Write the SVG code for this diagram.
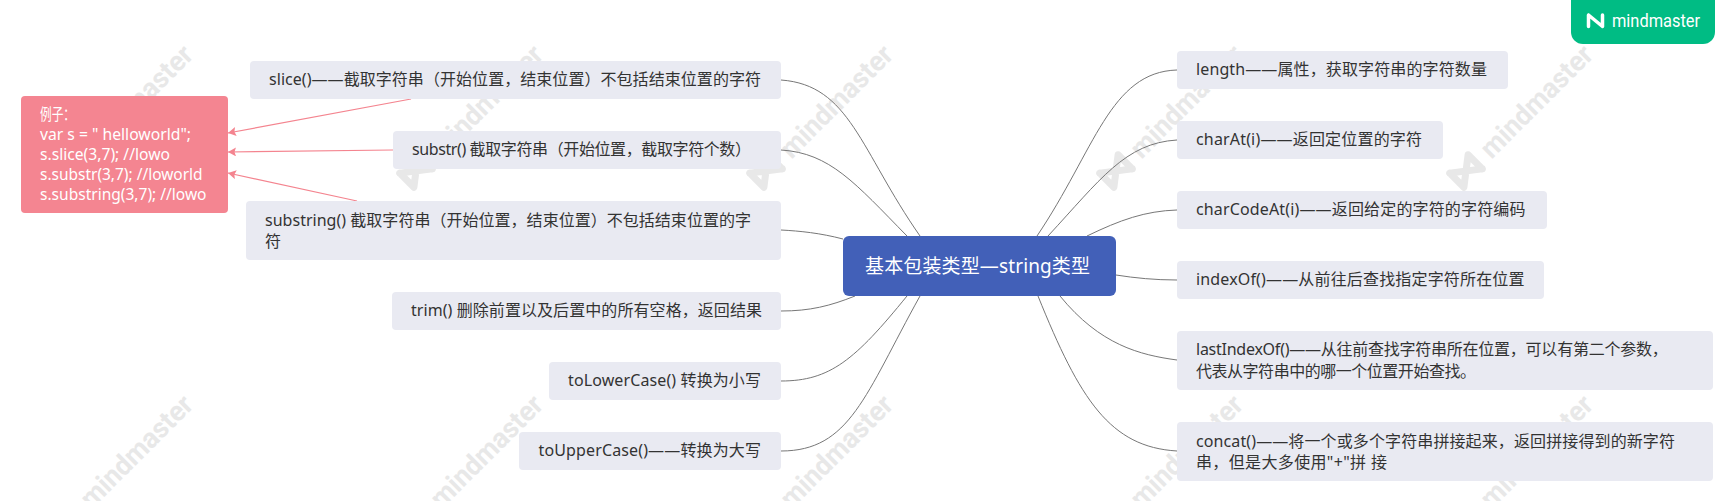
<svg xmlns="http://www.w3.org/2000/svg" xmlns:xlink="http://www.w3.org/1999/xlink" width="1733" height="501" viewBox="0 0 1733 501">
<style>
text{font-family:"Noto Sans","Noto Sans CJK SC",sans-serif;font-size:16px;fill:#333;white-space:pre}
.n{fill:#e9eaf2}
.c{fill:none;stroke:#777;stroke-width:1}
.a{fill:none;stroke:#f4848f;stroke-width:1.2;marker-end:url(#ah)}
.p{fill:#fff}
.wt{font-family:Roboto,"Noto Sans",sans-serif;font-size:28px;font-weight:700;fill:#e8e8e8}
.wl{fill:none;stroke:#e8e8e8;stroke-width:7;stroke-linejoin:round;stroke-linecap:round}
</style>
<defs>
<marker id="ah" viewBox="0 0 8 9" refX="8" refY="4.5" markerWidth="8" markerHeight="9" markerUnits="userSpaceOnUse" orient="auto"><path d="M0 0L8 4.5L0 9L1.5 4.5Z" fill="#f4848f"/></marker>
<g id="wm"><path class="wl" d="M-13 -10V10L13 -10V10M-13 -10L13 10"/><text class="wt" x="26" y="10" textLength="146" lengthAdjust="spacingAndGlyphs">mindmaster</text></g>
</defs>
<rect width="1733" height="501" fill="#fff"/>
<g id="watermarks">
<use xlink:href="#wm" transform="translate(66 171) rotate(-45)"/>
<use xlink:href="#wm" transform="translate(416 171) rotate(-45)"/>
<use xlink:href="#wm" transform="translate(766 171) rotate(-45)"/>
<use xlink:href="#wm" transform="translate(1116 171) rotate(-45)"/>
<use xlink:href="#wm" transform="translate(1466 171) rotate(-45)"/>
<use xlink:href="#wm" transform="translate(66 521) rotate(-45)"/>
<use xlink:href="#wm" transform="translate(416 521) rotate(-45)"/>
<use xlink:href="#wm" transform="translate(766 521) rotate(-45)"/>
<use xlink:href="#wm" transform="translate(1116 521) rotate(-45)"/>
<use xlink:href="#wm" transform="translate(1466 521) rotate(-45)"/>
</g>
<g id="connectors">
<path class="c" d="M781 80C850 85 860 150 920 236"/>
<path class="c" d="M781 150C830 153 855 183 907 236"/>
<path class="c" d="M781 230C800 231 820 233 843 239"/>
<path class="c" d="M781 311C810 311 830 306 855 296"/>
<path class="c" d="M781 381C830 381 855 360 907 296"/>
<path class="c" d="M781 451C850 451 865 395 920 296"/>
<path class="c" d="M1177 70C1110 72 1095 150 1037 236"/>
<path class="c" d="M1177 140C1125 143 1100 180 1048 236"/>
<path class="c" d="M1177 210C1145 211 1120 220 1087 236"/>
<path class="c" d="M1177 280C1155 280 1135 278 1116 275"/>
<path class="c" d="M1177 360C1140 355 1100 345 1060 296"/>
<path class="c" d="M1177 451C1110 447 1080 400 1038 296"/>
<path class="a" d="M411 99L228 133"/>
<path class="a" d="M393 150L228 152"/>
<path class="a" d="M357 201L228 173"/>
</g>
<g id="example"><rect x="21" y="96" width="207" height="117" rx="4" fill="#f48591"/>
<text class="p" x="40" y="120" textLength="35" lengthAdjust="spacingAndGlyphs">例子：</text>
<text class="p" x="40" y="140" textLength="151" lengthAdjust="spacingAndGlyphs">var s = " helloworld";</text>
<text class="p" x="40" y="160" textLength="130" lengthAdjust="spacingAndGlyphs">s.slice(3,7); //lowo</text>
<text class="p" x="40" y="180" textLength="162.6" lengthAdjust="spacingAndGlyphs">s.substr(3,7); //loworld</text>
<text class="p" x="40" y="200" textLength="166.5" lengthAdjust="spacingAndGlyphs">s.substring(3,7); //lowo</text></g>
<g id="slice"><rect class="n" x="250" y="61" width="531" height="38" rx="4"/><text x="269" y="85" textLength="492">slice()——截取字符串（开始位置，结束位置）不包括结束位置的字符</text></g>
<g id="substr"><rect class="n" x="393" y="131" width="388" height="38" rx="4"/><text x="412" y="155" textLength="339">substr() 截取字符串（开始位置，截取字符个数）</text></g>
<g id="substring"><rect class="n" x="246" y="201" width="535" height="59" rx="4"/><text x="265" y="226" textLength="486">substring() 截取字符串（开始位置，结束位置）不包括结束位置的字</text><text x="265" y="247">符</text></g>
<g id="trim"><rect class="n" x="392" y="292" width="389" height="38" rx="4"/><text x="411" y="316" textLength="351">trim() 删除前置以及后置中的所有空格，返回结果</text></g>
<g id="toLowerCase"><rect class="n" x="549" y="362" width="232" height="38" rx="4"/><text x="568" y="386" textLength="193">toLowerCase() 转换为小写</text></g>
<g id="toUpperCase"><rect class="n" x="519" y="432" width="262" height="38" rx="4"/><text x="538.5" y="456" textLength="222.5">toUpperCase()——转换为大写</text></g>
<g id="center"><rect x="843" y="236" width="273" height="60" rx="6" fill="#4260b8"/><text x="865" y="273" textLength="225" style="font-size:19px;fill:#fff">基本包装类型—string类型</text></g>
<g id="length"><rect class="n" x="1177" y="51" width="331" height="38" rx="4"/><text x="1196" y="75" textLength="291">length——属性，获取字符串的字符数量</text></g>
<g id="charAt"><rect class="n" x="1177" y="121" width="266" height="38" rx="4"/><text x="1196" y="145" textLength="226">charAt(i)——返回定位置的字符</text></g>
<g id="charCodeAt"><rect class="n" x="1177" y="191" width="370" height="38" rx="4"/><text x="1196" y="215" textLength="329.5">charCodeAt(i)——返回给定的字符的字符编码</text></g>
<g id="indexOf"><rect class="n" x="1177" y="261" width="367" height="38" rx="4"/><text x="1196" y="285" textLength="328.5">indexOf()——从前往后查找指定字符所在位置</text></g>
<g id="lastIndexOf"><rect class="n" x="1177" y="331" width="536" height="59" rx="4"/><text x="1196" y="355" textLength="471.7">lastIndexOf()——从往前查找字符串所在位置，可以有第二个参数，</text><text x="1196" y="377" textLength="280">代表从字符串中的哪一个位置开始查找。</text></g>
<g id="concat"><rect class="n" x="1177" y="422" width="536" height="59" rx="4"/><text x="1196" y="447" textLength="479">concat()——将一个或多个字符串拼接起来，返回拼接得到的新字符</text><text x="1196" y="468" textLength="191">串，但是大多使用"+"拼 接</text></g>
<g id="badge"><path d="M1571 0H1715V32A12 12 0 0 1 1703 44H1583A12 12 0 0 1 1571 32Z" fill="#00bc84"/><path d="M1588.5 15V26.5M1588.5 15L1602.5 26.5M1602.5 15V26.5" fill="none" stroke="#fff" stroke-width="3.5" stroke-linecap="round" stroke-linejoin="round"/><text x="1612" y="27" textLength="88" lengthAdjust="spacingAndGlyphs" style="font-family:Roboto,sans-serif;font-size:18px;fill:#fff">mindmaster</text></g>
</svg>
